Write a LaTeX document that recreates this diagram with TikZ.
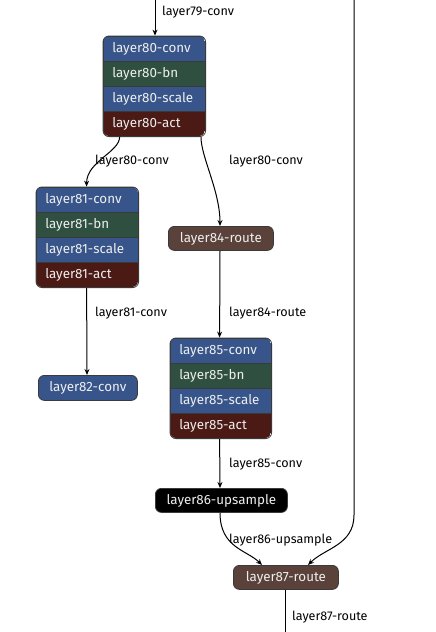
\documentclass[tikz,border=0pt]{standalone}
\usepackage{fontspec}
\setmainfont{Fira Sans}
\usetikzlibrary{arrows.meta,fit}
\definecolor{cblue}{HTML}{37558A}
\definecolor{cgreen}{HTML}{2F5040}
\definecolor{cred}{HTML}{4B1A14}
\definecolor{cbrown}{HTML}{5A413A}
\definecolor{cborder}{HTML}{3A3A3A}
\definecolor{ctext}{HTML}{EEEEEE}
\tikzset{
  row/.style={draw=cborder, line width=0.6pt, text=ctext, inner xsep=9pt, inner ysep=0pt,
    minimum height=25pt, text width=#1, align=left, anchor=north west, font=\fontsize{13.4}{14}\selectfont},
  row/.default=84pt,
  group/.style={draw=cborder, line width=0.8pt, rounded corners=6pt, inner sep=0pt},
  single/.style={draw=cborder, line width=0.8pt, rounded corners=6pt, text=ctext, inner xsep=4pt,
    inner ysep=0pt, minimum height=24pt, anchor=north west, align=center, font=\fontsize{13.4}{14}\selectfont},
  lab/.style={anchor=west, inner sep=0pt, font=\fontsize{12.6}{13}\selectfont, text=black},
  edge/.style={draw=black, line width=1pt, -{Stealth[length=6pt,width=5pt]}},
  plain/.style={draw=black, line width=1pt}
}
\begin{document}
\begin{tikzpicture}[x=1pt,y=-1pt]
\useasboundingbox (0,0) rectangle (436,632);
% block 80
\begin{scope}
\clip[rounded corners=6pt] (103,36) rectangle (205,136);
\node[row, fill=cblue] (l80c) at (103,36) {layer80-conv};
\node[row, fill=cgreen] (l80b) at (103,61) {layer80-bn};
\node[row, fill=cblue] (l80s) at (103,86) {layer80-scale};
\node[row, fill=cred] (l80a) at (103,111) {layer80-act};
\end{scope}
\node[group, fit=(l80c)(l80a)] (l80) {};
% block 81
\begin{scope}
\clip[rounded corners=6pt] (36,187) rectangle (138,287);
\node[row, fill=cblue] (l81c) at (36,187) {layer81-conv};
\node[row, fill=cgreen] (l81b) at (36,212) {layer81-bn};
\node[row, fill=cblue] (l81s) at (36,237) {layer81-scale};
\node[row, fill=cred] (l81a) at (36,262) {layer81-act};
\end{scope}
\node[group, fit=(l81c)(l81a)] (l81) {};
% block 85
\begin{scope}
\clip[rounded corners=6pt] (170,338) rectangle (271,438);
\node[row=83pt, fill=cblue] (l85c) at (170,338) {layer85-conv};
\node[row=83pt, fill=cgreen] (l85b) at (170,363) {layer85-bn};
\node[row=83pt, fill=cblue] (l85s) at (170,388) {layer85-scale};
\node[row=83pt, fill=cred] (l85a) at (170,413) {layer85-act};
\end{scope}
\node[group, fit=(l85c)(l85a)] (l85) {};
% singles
\node[single, fill=cblue, minimum width=99pt, minimum height=25pt] (l82) at (38,375) {layer82-conv};
\node[single, fill=cbrown, minimum width=105pt] (l84) at (168,226) {layer84-route};
\node[single, fill=black, minimum width=132pt] (l86) at (155,488) {layer86-upsample};
\node[single, fill=cbrown, minimum width=105pt] (l87) at (233,565) {layer87-route};
% coordinates
\coordinate (top79) at (155,0);
\coordinate (topR) at (354,0);
\coordinate (bot87) at (285,632);
% edges
\draw[edge] (top79) -- (top79 |- l80.north);
\node[lab] (t79) at (162,12) {layer79-conv};
\draw[edge] ([xshift=17pt]l80.south west) .. controls +(0,15) and +(0,-25) .. ([xshift=51pt]l81.north west);
\node[lab] (t80a) at (95,161) {layer80-conv};
\draw[edge] ([xshift=-5pt]l80.south east) .. controls +(0,20) and +(0,-35) .. ([xshift=52pt]l84.north west);
\node[lab] (t80b) at (229,161) {layer80-conv};
\draw[edge] ([xshift=51pt]l81.south west) -- ([xshift=49pt]l82.north west);
\node[lab] (t81) at (95,313) {layer81-conv};
\draw[edge] ([xshift=52pt]l84.south west) -- ([xshift=50pt]l85.north west);
\node[lab] (t84) at (229,313) {layer84-route};
\draw[edge] ([xshift=50pt]l85.south west) -- ([xshift=65pt]l86.north west);
\node[lab] (t85) at (229,464) {layer85-conv};
\draw[edge] ([xshift=65pt]l86.south west) .. controls +(0,35) and +(-15,-15) .. ([xshift=29pt]l87.north west);
\node[lab] (t86) at (229,540) {layer86-upsample};
\draw[edge] (topR) -- (354,515) .. controls (354,545) and (325,548) .. ([xshift=75pt]l87.north west);
\draw[plain] ([xshift=52pt]l87.south west) -- (bot87);
\node[lab] (t87) at (292,617) {layer87-route};
\end{tikzpicture}
\end{document}
